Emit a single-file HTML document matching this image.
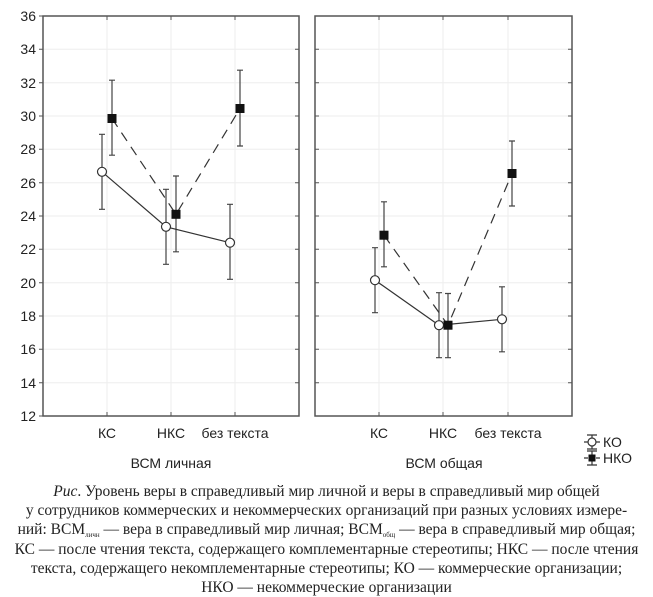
<!DOCTYPE html>
<html><head><meta charset="utf-8"><style>
body{margin:0;background:#fff;width:653px;height:596px;overflow:hidden}
.cap{position:absolute;left:0;width:653px;top:482px;text-align:center;font-family:"Liberation Serif",serif;font-size:15.5px;line-height:19.2px;color:#222}
sub{font-size:7px;line-height:0;vertical-align:-3px}
</style></head><body>
<svg width="653" height="470" style="position:absolute;left:0;top:0" font-family="Liberation Sans, sans-serif">
<g stroke="#eee" stroke-width="1">
<line x1="107" y1="16" x2="107" y2="416"/><line x1="171" y1="16" x2="171" y2="416"/><line x1="235" y1="16" x2="235" y2="416"/>
<line x1="379" y1="16" x2="379" y2="416"/><line x1="443" y1="16" x2="443" y2="416"/><line x1="508" y1="16" x2="508" y2="416"/>
<line x1="43" y1="49.3" x2="299" y2="49.3"/><line x1="43" y1="82.7" x2="299" y2="82.7"/><line x1="43" y1="116" x2="299" y2="116"/><line x1="43" y1="149.3" x2="299" y2="149.3"/><line x1="43" y1="182.7" x2="299" y2="182.7"/><line x1="43" y1="216" x2="299" y2="216"/><line x1="43" y1="249.3" x2="299" y2="249.3"/><line x1="43" y1="282.7" x2="299" y2="282.7"/><line x1="43" y1="316" x2="299" y2="316"/><line x1="43" y1="349.3" x2="299" y2="349.3"/><line x1="43" y1="382.7" x2="299" y2="382.7"/>
<line x1="315" y1="49.3" x2="572" y2="49.3"/><line x1="315" y1="82.7" x2="572" y2="82.7"/><line x1="315" y1="116" x2="572" y2="116"/><line x1="315" y1="149.3" x2="572" y2="149.3"/><line x1="315" y1="182.7" x2="572" y2="182.7"/><line x1="315" y1="216" x2="572" y2="216"/><line x1="315" y1="249.3" x2="572" y2="249.3"/><line x1="315" y1="282.7" x2="572" y2="282.7"/><line x1="315" y1="316" x2="572" y2="316"/><line x1="315" y1="349.3" x2="572" y2="349.3"/><line x1="315" y1="382.7" x2="572" y2="382.7"/>
</g>
<g stroke="#555" stroke-width="1.5" fill="none">
<rect x="43" y="16" width="256" height="400"/>
<rect x="315" y="16" width="257" height="400"/>
</g>
<g stroke="#555" stroke-width="1">
<path d="M43 16h-4M43 49.3h-4M43 82.7h-4M43 116h-4M43 149.3h-4M43 182.7h-4M43 216h-4M43 249.3h-4M43 282.7h-4M43 316h-4M43 349.3h-4M43 382.7h-4M43 416h-4"/>
<path d="M299 49.3h-4M299 82.7h-4M299 116h-4M299 149.3h-4M299 182.7h-4M299 216h-4M299 249.3h-4M299 282.7h-4M299 316h-4M299 349.3h-4M299 382.7h-4"/>
<path d="M315 49.3h4M315 82.7h4M315 116h4M315 149.3h4M315 182.7h4M315 216h4M315 249.3h4M315 282.7h4M315 316h4M315 349.3h4M315 382.7h4"/>
<path d="M572 49.3h-4M572 82.7h-4M572 116h-4M572 149.3h-4M572 182.7h-4M572 216h-4M572 249.3h-4M572 282.7h-4M572 316h-4M572 349.3h-4M572 382.7h-4"/>
<path d="M107 416v-4M171 416v-4M235 416v-4M379 416v-4M443 416v-4M508 416v-4M107 16v4M171 16v4M235 16v4M379 16v4M443 16v4M508 16v4"/>
</g>
<g font-size="14" fill="#222" text-anchor="end">
<text x="36" y="21">36</text><text x="36" y="54">34</text><text x="36" y="88">32</text><text x="36" y="121">30</text><text x="36" y="154">28</text><text x="36" y="188">26</text><text x="36" y="221">24</text><text x="36" y="254">22</text><text x="36" y="288">20</text><text x="36" y="321">18</text><text x="36" y="354">16</text><text x="36" y="388">14</text><text x="36" y="421">12</text>
</g>
<g font-size="14" fill="#222" text-anchor="middle">
<text x="107" y="438">КС</text><text x="171" y="438">НКС</text><text x="235" y="438">без текста</text>
<text x="379" y="438">КС</text><text x="443" y="438">НКС</text><text x="508" y="438">без текста</text>
<text x="171" y="468">ВСМ личная</text><text x="444" y="468">ВСМ общая</text>
</g>
<g stroke="#444" stroke-width="1.2" fill="none">
<path d="M102 134.3V209.3M99 134.3h6M99 209.3h6"/>
<path d="M166 189.3V264.3M163 189.3h6M163 264.3h6"/>
<path d="M230 204.3V279.3M227 204.3h6M227 279.3h6"/>
<path d="M112 80.2V155.2M109 80.2h6M109 155.2h6"/>
<path d="M176 176V251.8M173 176h6M173 251.8h6"/>
<path d="M240 70.2V146M237 70.2h6M237 146h6"/>
<path d="M375 247.7V312.7M372 247.7h6M372 312.7h6"/>
<path d="M439 292.7V357.7M436 292.7h6M436 357.7h6"/>
<path d="M502 286.8V351.8M499 286.8h6M499 351.8h6"/>
<path d="M384 201.8V266.8M381 201.8h6M381 266.8h6"/>
<path d="M448 293.5V357.7M445 293.5h6M445 357.7h6"/>
<path d="M512 141V206M509 141h6M509 206h6"/>
</g>
<g stroke="#333" stroke-width="1.2" fill="none">
<polyline points="102,171.8 166,226.8 230,242.7"/>
<polyline points="375,280.2 439,325.2 502,319.3"/>
<polyline stroke-dasharray="10,7" points="112,118.5 176,214.3 240,108.5"/>
<polyline stroke-dasharray="10,7" points="384,235.2 448,325.2 512,173.5"/>
</g>
<g stroke="#333" stroke-width="1.2" fill="#fff">
<circle cx="102" cy="171.8" r="4.5"/><circle cx="166" cy="226.8" r="4.5"/><circle cx="230" cy="242.7" r="4.5"/>
<circle cx="375" cy="280.2" r="4.5"/><circle cx="439" cy="325.2" r="4.5"/><circle cx="502" cy="319.3" r="4.5"/>
</g>
<g fill="#111">
<rect x="107.5" y="114" width="9" height="9"/><rect x="171.5" y="209.8" width="9" height="9"/><rect x="235.5" y="104" width="9" height="9"/>
<rect x="379.5" y="230.7" width="9" height="9"/><rect x="443.5" y="320.7" width="9" height="9"/><rect x="507.5" y="169" width="9" height="9"/>
</g>
<g stroke="#333" stroke-width="1.2" fill="none">
<path d="M584 442h16M592 435v14M587 435h10M587 449h10"/>
<circle cx="592" cy="442" r="4" fill="#fff"/>
<path d="M584 458h4M596 458h4M592 451v14M587 451h10M587 465h10"/>
</g>
<rect x="588.5" y="454.5" width="7" height="7" fill="#111"/>
<g font-size="14" fill="#222"><text x="603" y="447">КО</text><text x="603" y="463">НКО</text></g>
</svg>
<div class="cap"><i>Рис</i>. Уровень веры в справедливый мир личной и веры в справедливый мир общей<br>у сотрудников коммерческих и некоммерческих организаций при разных условиях измере-<br>ний: ВСМ<sub>личн</sub> — вера в справедливый мир личная; ВСМ<sub>общ</sub> — вера в справедливый мир общая;<br>КС — после чтения текста, содержащего комплементарные стереотипы; НКС — после чтения<br>текста, содержащего некомплементарные стереотипы; КО — коммерческие организации;<br>НКО — некоммерческие организации</div>
</body></html>
